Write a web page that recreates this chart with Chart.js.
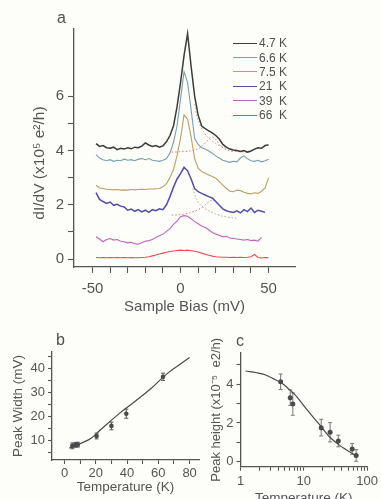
<!DOCTYPE html>
<html><head><meta charset="utf-8">
<script src="https://cdn.jsdelivr.net/npm/chart.js@4.4.0/dist/chart.umd.min.js"></script>
<style>
html,body{margin:0;padding:0;background:#fdfdf9;overflow:hidden;width:381px;height:499px;}
#wrap{position:relative;width:381px;height:499px;overflow:hidden;font-family:"Liberation Sans",Arial,sans-serif;color:#505050;}
canvas{position:absolute;}
#ca{left:0;top:0;}
#cb{left:0;top:330px;}
#cc{left:190px;top:330px;}
.lbl{position:absolute;font-size:16px;color:#505050;line-height:1;}
#ytA{position:absolute;left:39px;top:163px;transform:translate(-50%,-50%) rotate(-90deg);white-space:nowrap;font-size:15.5px;color:#555;}
#legend{position:absolute;left:233px;top:36px;font-size:12px;color:#505050;}
.row{height:14.4px;display:flex;align-items:center;white-space:pre;}
.sw{width:24px;height:0;border-top:1.6px solid;margin-right:2px;}
</style></head>
<body><div id="wrap">
<canvas id="ca" width="381" height="330"></canvas>
<canvas id="cb" width="205" height="169"></canvas>
<canvas id="cc" width="191" height="190"></canvas>
<div class="lbl" style="left:57px;top:10px;">a</div>
<div class="lbl" style="left:56px;top:332px;">b</div>
<div class="lbl" style="left:236px;top:333px;">c</div>
<div id="ytA">dI/dV (x10⁵ e²/h)</div>
<div id="legend"></div>
</div>
<script>
// ---------- Panel a data ----------
const bias = [-48,-46,-44,-42,-40,-38,-36,-34,-32,-30,-28,-26,-24,-22,-20,-18,-16,-14,-12,-10,-8,-6,-4,-2,
  0,2,4,6,8,10,12,14,16,18,20,22,24,26,28,30,32,34,36,38,40,42,44,46,48,50];
const seriesNames = ["4.7 K","6.6 K","7.5 K","21  K","39  K","66  K"];
const seriesColors = ["#3c3c3c","#7a9fac","#bda063","#4f50a6","#c262c6","#f2484f"];
const s47 = [4.25,4.15,4.18,4.10,4.08,4.12,4.03,4.08,4.05,4.10,4.06,4.12,4.10,4.16,4.28,4.20,4.15,4.18,4.12,4.17,4.32,4.55,4.90,5.60,
  6.50,7.50,8.30,7.10,6.00,5.30,4.90,4.80,4.72,4.65,4.55,4.42,4.22,4.12,4.05,4.02,4.00,3.96,4.00,3.94,3.98,4.05,4.10,4.08,4.18,4.20];
const s66 = [3.85,3.72,3.66,3.62,3.66,3.60,3.64,3.62,3.68,3.64,3.66,3.62,3.68,3.70,3.66,3.70,3.64,3.62,3.60,3.64,3.70,3.90,4.30,4.90,
  5.90,6.90,6.50,5.50,4.45,4.22,4.10,4.05,3.98,3.90,3.80,3.72,3.64,3.60,3.56,3.60,3.58,3.72,3.80,3.70,3.62,3.60,3.64,3.58,3.62,3.68];
const s75 = [2.72,2.62,2.60,2.57,2.56,2.55,2.56,2.54,2.55,2.54,2.56,2.55,2.56,2.57,2.56,2.58,2.58,2.59,2.60,2.66,2.78,3.00,3.30,3.80,
  4.45,5.30,5.15,4.50,3.70,3.35,3.22,3.16,3.10,3.04,2.98,2.85,2.72,2.60,2.50,2.48,2.54,2.52,2.46,2.42,2.40,2.44,2.42,2.50,2.62,3.00];
const s21 = [2.45,2.20,2.12,2.05,2.10,1.98,2.02,1.95,1.92,1.80,1.84,1.76,1.82,1.74,1.80,1.72,1.82,1.78,1.85,1.82,2.00,2.30,2.65,2.95,
  3.15,3.38,3.25,2.95,2.60,2.48,2.42,2.36,2.30,2.25,2.12,1.98,1.85,1.78,1.74,1.72,1.78,1.70,1.82,1.75,1.88,1.72,1.80,1.76,1.72,null];
const s39 = [0.82,0.74,0.64,0.72,0.76,0.70,0.72,0.66,0.64,0.60,0.62,0.57,0.55,0.60,0.66,0.68,0.72,0.80,0.86,0.92,1.02,1.12,1.28,1.40,
  1.56,1.60,1.58,1.48,1.38,1.30,1.22,1.16,1.08,0.98,0.92,0.88,0.82,0.84,0.78,0.76,0.74,0.72,0.70,0.72,0.68,0.70,0.66,0.80,null,null];
const s66K = [0.06,0.05,0.06,0.05,0.06,0.05,0.06,0.05,0.06,0.05,0.06,0.05,0.05,0.06,0.07,0.09,0.12,0.15,0.19,0.22,0.25,0.28,0.30,0.32,
  0.33,0.32,0.33,0.31,0.29,0.26,0.22,0.18,0.14,0.11,0.09,0.08,0.07,0.07,0.06,0.07,0.06,0.07,0.06,0.07,0.09,0.17,0.06,0.04,0.06,0.05];
const seriesValues = [s47, s66, s75, s21, s39, s66K];
// fit curves (dotted)
const fitRedBlackX = [-5,0,5,10,13,16,18,20,23,27,32,38];
const fitRedBlackY = [3.94,3.95,3.98,4.06,4.20,4.42,4.50,4.40,4.15,4.00,3.96,3.94];
const fitGreyBlackX = [8,10,13,16,20,24,28,33,40];
const fitGreyBlackY = [5.70,5.10,4.70,4.45,4.25,4.12,4.04,3.98,3.94];
const fitRedBlueX = [-5,0,5,10,14,17,19];
const fitRedBlueY = [1.62,1.64,1.70,1.82,2.00,2.15,2.18];
const fitGreyBlueX = [7,9,12,16,20,24,28,32];
const fitGreyBlueY = [2.60,2.20,1.95,1.78,1.66,1.58,1.53,1.50];
const xTicksA = [-50,-40,-30,-20,-10,0,10,20,30,40,50];
const xLabelsA = [-50,0,50];
const yTicksA = [0,1,2,3,4,5,6];
const yLabelsA = [0,2,4,6];

// ---------- Panel b data ----------
const tempB = [5,7,8.5,20.5,30,39.5,63];
const widthB = [7.9,8.3,8.4,12.0,16.2,21.3,36.7];
const widthErrB = [1.2,1.0,1.0,1.2,1.6,1.9,1.5];
const fitTempB = [3,5,7,10,17,23,34,45,55.5,66,80];
const fitWidthB = [7.0,7.4,7.9,8.8,11.1,14.6,20.8,26.4,31.9,38.2,44.7];
const xTicksB = [0,10,20,30,40,50,60,70,80];
const xLabelsB = [0,20,40,60,80];
const yTicksB = [5,10,15,20,25,30,35,40,45];
const yLabelsB = [10,20,30,40];

// ---------- Panel c data ----------
const tempC = [4.3,6.1,6.7,18.8,26,35,58,67];
const heightC = [4.13,3.31,2.98,1.76,1.52,1.07,0.66,0.32];
const heightErrC = [0.40,0.40,0.58,0.43,0.50,0.30,0.28,0.30];
const fitTempC = [1.2,1.8,2.5,3.2,4.5,5.6,7.3,9.8,13.2,18.8,26.8,43,55,68];
const fitHeightC = [4.69,4.60,4.48,4.31,4.05,3.80,3.45,2.93,2.41,1.81,1.21,0.69,0.47,0.30];
const xTicksC = [1,2,3,4,5,6,7,8,9,10,20,30,40,50,60,70,80,90,100];
const xLabelsC = [1,10,100];
const yTicksC = [0,1,2,3,4,5];
const yLabelsC = [0,2,4];

// ---------- helpers ----------
const AX = '#555';
const FONT = '"Liberation Sans", Arial, sans-serif';
Chart.defaults.font.family = FONT;
Chart.defaults.color = AX;
const pts = (xs, ys) => xs.map((x,i)=>({x:x, y:ys[i]}));

const errPlugin = {
  id:'errbars',
  beforeDatasetsDraw(chart){
    const ctx = chart.ctx, xs = chart.scales.x, ys = chart.scales.y;
    chart.data.datasets.forEach(ds=>{
      if(!ds.errors) return;
      ctx.save();
      ctx.strokeStyle = ds.errorColor; ctx.lineWidth = 1;
      ds.data.forEach((p,j)=>{
        const e = ds.errors[j];
        const x = xs.getPixelForValue(p.x);
        const y1 = ys.getPixelForValue(p.y - e), y2 = ys.getPixelForValue(p.y + e);
        ctx.beginPath();
        ctx.moveTo(x,y1); ctx.lineTo(x,y2);
        ctx.moveTo(x-2,y1); ctx.lineTo(x+2,y1);
        ctx.moveTo(x-2,y2); ctx.lineTo(x+2,y2);
        ctx.stroke();
      });
      ctx.restore();
    });
  }
};

function axisOpts(o){
  return {
    type: o.type || 'linear', min:o.min, max:o.max,
    border:{color:AX, width:1.3},
    grid:{display:true, drawOnChartArea:false, drawTicks:true, tickLength:o.tickLength, color:AX, tickWidth:1.1},
    afterBuildTicks: s => { s.ticks = o.ticks.map(v=>({value:v})); },
    ticks:{autoSkip:false, maxRotation:0, minRotation:0, padding:o.tickPad, color:AX, font:{size:o.tickSize},
      callback: v => o.labels.includes(v) ? String(v) : ''},
    title: o.title ? {display:true, text:o.title, color:AX, font:{size:o.titleSize}, padding:o.titlePad} : {display:false},
    afterFit: s => { if (o.width!==undefined) s.width = o.width; if (o.height!==undefined) s.height = o.height; }
  };
}

// ---------- Panel a ----------
const dsA = seriesValues.map((vals,i)=>({
  label: seriesNames[i], data: pts(bias, vals), borderColor: seriesColors[i],
  borderWidth: i===0 ? 1.5 : (i===3 ? 1.5 : 1.1), pointRadius:0, spanGaps:false, tension:0
}));
const fitStyle = (c)=>({borderColor:c, borderWidth:1, borderDash:[1.5,2], pointRadius:0, tension:0.3});
dsA.push(Object.assign({label:'fitRB', data:pts(fitRedBlackX, fitRedBlackY)}, fitStyle('#e87a7e')));
dsA.push(Object.assign({label:'fitGB', data:pts(fitGreyBlackX, fitGreyBlackY)}, fitStyle('#a8a8a8')));
dsA.push(Object.assign({label:'fitRU', data:pts(fitRedBlueX, fitRedBlueY)}, fitStyle('#e87a7e')));
dsA.push(Object.assign({label:'fitGU', data:pts(fitGreyBlueX, fitGreyBlueY)}, fitStyle('#a8a8a8')));

new Chart(document.getElementById('ca'), {
  type:'line',
  data:{datasets: dsA},
  options:{
    responsive:false, animation:false, devicePixelRatio:1,
    layout:{padding:{top:29, right:86, left:0, bottom:0}},
    plugins:{legend:{display:false}, tooltip:{enabled:false}},
    scales:{
      x: axisOpts({min:-60.5, max:65, ticks:xTicksA, labels:xLabelsA, tickLength:6, tickPad:7, tickSize:15,
          title:'Sample Bias (mV)', titleSize:15, titlePad:{top:0,bottom:14}, height:63}),
      y: axisOpts({min:-0.29, max:8.47, ticks:yTicksA, labels:yLabelsA, tickLength:6, tickPad:4, tickSize:15, width:74})
    }
  }
});

// legend
const leg = document.getElementById('legend');
seriesNames.forEach((n,i)=>{
  const r = document.createElement('div'); r.className='row';
  const sw = document.createElement('span'); sw.className='sw'; sw.style.borderTopColor = seriesColors[i];
  const t = document.createElement('span'); t.textContent = n;
  r.appendChild(sw); r.appendChild(t); leg.appendChild(r);
});

// ---------- Panel b ----------
new Chart(document.getElementById('cb'), {
  type:'line',
  data:{datasets:[
    {label:'data', data:pts(tempB, widthB), errors:widthErrB, errorColor:'#555', showLine:false,
      pointRadius:2.3, pointBackgroundColor:'#4a4a4a', pointBorderColor:'#4a4a4a', pointBorderWidth:0},
    {label:'fit', data:pts(fitTempB, fitWidthB), borderColor:'#4a4a4a', borderWidth:1.2, pointRadius:0, tension:0.4}
  ]},
  options:{
    responsive:false, animation:false, devicePixelRatio:1,
    layout:{padding:{top:22, right:6, left:0, bottom:0}},
    plugins:{legend:{display:false}, tooltip:{enabled:false}},
    scales:{
      x: axisOpts({min:-8, max:86, ticks:xTicksB, labels:xLabelsB, tickLength:4, tickPad:2, tickSize:13,
          title:'Temperature (K)', titleSize:13.5, titlePad:{top:0,bottom:4}, height:39}),
      y: axisOpts({min:2, max:47, ticks:yTicksB, labels:yLabelsB, tickLength:4, tickPad:3, tickSize:13,
          title:'Peak Width (mV)', titleSize:13.5, titlePad:{top:10,bottom:0}, width:52})
    }
  },
  plugins:[errPlugin]
});

// ---------- Panel c ----------
new Chart(document.getElementById('cc'), {
  type:'line',
  data:{datasets:[
    {label:'data', data:pts(tempC, heightC), errors:heightErrC, errorColor:'#777', showLine:false,
      pointRadius:2.5, pointBackgroundColor:'#4a4a4a', pointBorderColor:'#4a4a4a', pointBorderWidth:0},
    {label:'fit', data:pts(fitTempC, fitHeightC), borderColor:'#4a4a4a', borderWidth:1.2, pointRadius:0, tension:0.4}
  ]},
  options:{
    responsive:false, animation:false, devicePixelRatio:1,
    layout:{padding:{top:23, right:10.5, left:0, bottom:0}},
    plugins:{legend:{display:false}, tooltip:{enabled:false}},
    scales:{
      x: axisOpts({type:'logarithmic', min:1, max:100, ticks:xTicksC, labels:xLabelsC, tickLength:4, tickPad:3, tickSize:13,
          title:'Temperature (K)', titleSize:13.5, titlePad:{top:0,bottom:14}, height:53.3}),
      y: axisOpts({min:-0.26, max:5.62, ticks:yTicksC, labels:yLabelsC, tickLength:4, tickPad:3, tickSize:13,
          title:'Peak height (x10⁻⁵  e2/h)', titleSize:13, titlePad:{top:19,bottom:0}, width:50.5})
    }
  },
  plugins:[errPlugin]
});
</script>
</body></html>
